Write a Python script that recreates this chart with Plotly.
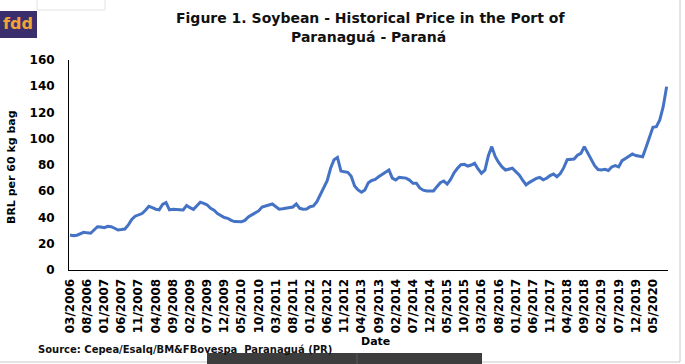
import plotly.graph_objects as go

# ---- data ----
start_year, start_month = 2006, 3
prices = [
    26.7, 26.2, 26.5, 27.8, 28.7, 28.3, 28.0, 30.5, 33.0, 32.8,
    32.3, 33.3, 33.0, 31.8, 30.5, 30.8, 31.2, 34.3, 38.5, 41.0,
    42.2, 43.0, 45.5, 48.5, 47.5, 46.3, 45.8, 50.0, 51.4, 45.8,
    46.2, 45.8, 45.9, 45.7, 49.2, 47.5, 46.2, 49.0, 51.6, 50.8,
    49.5, 47.0, 45.5, 43.0, 41.2, 40.0, 39.4, 37.8, 36.9, 36.8,
    36.8, 37.8, 40.5, 42.0, 43.5, 45.0, 48.0, 48.5, 49.5, 50.3,
    48.0, 46.3, 46.6, 47.0, 47.5, 48.0, 50.3, 47.0, 46.3, 46.4,
    48.2, 48.8, 52.0, 57.5, 62.0, 68.0, 77.5, 84.0, 85.8, 75.5,
    74.8, 74.4, 71.5, 64.0, 61.0, 59.2, 61.0, 66.5, 68.2, 69.0,
    71.0, 73.0, 74.5, 76.2, 70.0, 68.6, 70.6, 70.3, 70.0, 68.5,
    66.1, 66.1, 62.5, 60.8, 60.2, 60.2, 60.2, 63.5, 66.5, 67.8,
    65.5, 69.0, 74.0, 77.5, 80.2, 80.5, 79.2, 80.0, 81.3, 77.0,
    73.7, 76.0, 87.0, 94.0, 86.5, 82.0, 78.5, 76.2, 77.0, 77.5,
    75.0, 72.4, 68.5, 64.8, 66.8, 68.3, 69.8, 70.5, 68.8, 69.9,
    72.0, 73.1, 71.1, 73.5, 78.0, 84.0, 84.0, 84.5, 87.5, 88.9,
    94.0, 88.9, 84.0, 79.5, 76.5, 76.2, 76.7, 75.8, 78.5, 79.5,
    78.5, 83.3, 85.0, 86.5, 88.4, 87.2, 86.5, 86.3, 93.5, 102.0,
    108.7, 109.2, 114.3, 124.4, 139.7,
]
dates = []
for i in range(len(prices)):
    mm = (start_month - 1 + i) % 12 + 1
    yy = start_year + (start_month - 1 + i) // 12
    dates.append(f"{mm:02d}/{yy}")
tick_idx = list(range(0, len(prices), 5))[:35]
tick_labels = [dates[i] for i in tick_idx]
y_ticks = [0, 20, 40, 60, 80, 100, 120, 140, 160]

# ---- layout geometry (pixels) ----
W, H = 685, 364
L, R, T, B = 69, 17, 60, 94
pw, ph = W - L - R, H - T - B


def px(x):
    return (x - L) / pw


def py(y):
    return (H - B - y) / ph


FONT = "DejaVu Sans, Verdana, sans-serif"

fig = go.Figure()
fig.add_trace(go.Scatter(
    x=list(range(len(prices))), y=prices, mode="lines",
    line=dict(color="#4472C4", width=3), hoverinfo="skip",
))

fig.update_layout(
    width=W, height=H,
    margin=dict(l=L, r=R, t=T, b=B, pad=0),
    paper_bgcolor="white", plot_bgcolor="white",
    showlegend=False,
    font=dict(family=FONT, color="#000000"),
    xaxis=dict(
        range=[-0.3, len(prices) - 0.6],
        tickmode="array",
        tickvals=tick_idx,
        ticktext=[f"<b>{t}</b>" for t in tick_labels],
        tickangle=-90,
        tickfont=dict(size=12, family=FONT, color="#000000"),
        showline=True, linecolor="#000000", linewidth=1,
        showgrid=False, zeroline=False, ticks="",
        ticklabelstandoff=3,
        automargin=False,
    ),
    yaxis=dict(
        range=[0, 160],
        tickvals=y_ticks,
        ticktext=[f"<b>{v}</b>" for v in y_ticks],
        tickfont=dict(size=12, family=FONT, color="#000000"),
        showline=True, linecolor="#000000", linewidth=1,
        showgrid=False, zeroline=False, ticks="",
        ticklabelstandoff=11,
        automargin=False,
    ),
)

ann = dict(xref="paper", yref="paper", showarrow=False)
# Title (two lines)
fig.add_annotation(text="<b>Figure 1. Soybean - Historical Price in the Port of</b>",
                   x=px(370), y=py(18), xanchor="center", yanchor="middle",
                   font=dict(size=14, family=FONT, color="#111111"), **ann)
fig.add_annotation(text="<b>Paranaguá - Paraná</b>",
                   x=px(368), y=py(37), xanchor="center", yanchor="middle",
                   font=dict(size=14, family=FONT, color="#111111"), **ann)
# Axis titles
fig.add_annotation(text="<b>BRL per 60 kg bag</b>", textangle=-90,
                   x=px(11), y=py(167), xanchor="center", yanchor="middle",
                   font=dict(size=11, family=FONT, color="#000000"), **ann)
fig.add_annotation(text="<b>Date</b>",
                   x=px(375), y=py(341), xanchor="center", yanchor="middle",
                   font=dict(size=11, family=FONT, color="#000000"), **ann)
# Source note
fig.add_annotation(text="<b>Source: Cepea/Esalq/BM&FBovespa  Paranaguá (PR)</b>",
                   x=px(36), y=py(349), xanchor="left", yanchor="middle",
                   font=dict(size=10, family=FONT, color="#111111"), **ann)

# decorative frame / logo elements from the screenshot
shapes = [
    dict(type="line", xref="paper", yref="paper", x0=px(680), x1=px(680), y0=py(0), y1=py(362),
         line=dict(color="#c8c8c8", width=1)),
    dict(type="line", xref="paper", yref="paper", x0=px(0), x1=px(680), y0=py(362), y1=py(362),
         line=dict(color="#c8c8c8", width=1)),
    dict(type="rect", xref="paper", yref="paper", x0=px(37), x1=px(105), y0=py(10), y1=py(-2),
         line=dict(color="#e2e2e2", width=1), fillcolor="white"),
    dict(type="rect", xref="paper", yref="paper", x0=px(0), x1=px(37), y0=py(38), y1=py(11),
         line=dict(width=0), fillcolor="#3a2f6c"),
    dict(type="rect", xref="paper", yref="paper", x0=px(207), x1=px(482), y0=py(365), y1=py(353),
         line=dict(width=0), fillcolor="#3d3d3d"),
    dict(type="line", xref="paper", yref="paper", x0=px(357), x1=px(357), y0=py(365), y1=py(353),
         line=dict(color="#5a5a5a", width=1)),
]
fig.update_layout(shapes=shapes)
fig.add_annotation(text="<b>fdd</b>", x=px(18), y=py(24), xanchor="center", yanchor="middle",
                   font=dict(size=16, family=FONT, color="#f2a23a"), **ann)

fig.write_html(
    "out.html",
    config={"displayModeBar": False},
    post_script="document.body.style.margin='0';document.body.style.overflow='hidden';",
)
